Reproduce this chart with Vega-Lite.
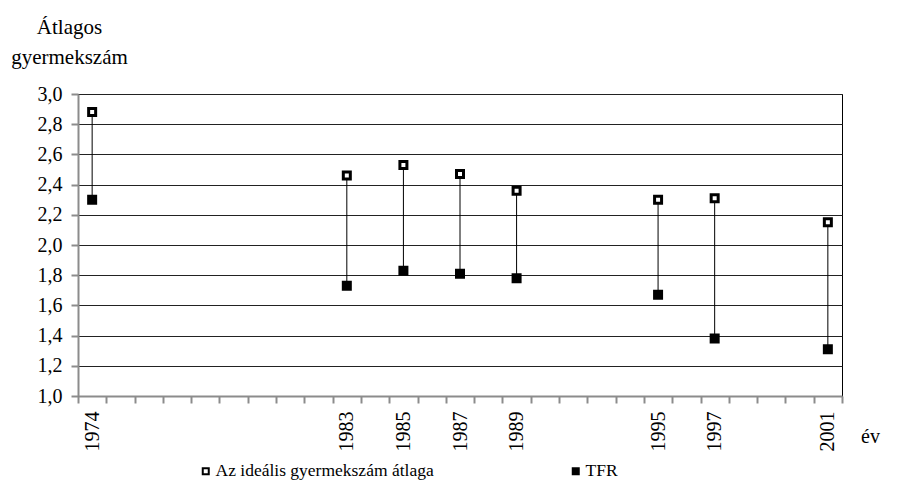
{
  "$schema": "https://vega.github.io/schema/vega-lite/v6.json",
  "width": 764,
  "height": 302,
  "autosize": "none",
  "padding": {"left": 78, "top": 94, "right": 62, "bottom": 100},
  "background": "white",
  "config": {
    "font": "Liberation Serif",
    "view": {"stroke": "#000", "strokeWidth": 1}
  },
  "data": {
    "values": [
      {"ev": "1974", "Az ideális gyermekszám átlaga": 2.88, "TFR": 2.30},
      {"ev": "1983", "Az ideális gyermekszám átlaga": 2.46, "TFR": 1.73},
      {"ev": "1985", "Az ideális gyermekszám átlaga": 2.53, "TFR": 1.83},
      {"ev": "1987", "Az ideális gyermekszám átlaga": 2.47, "TFR": 1.81},
      {"ev": "1989", "Az ideális gyermekszám átlaga": 2.36, "TFR": 1.78},
      {"ev": "1995", "Az ideális gyermekszám átlaga": 2.30, "TFR": 1.67},
      {"ev": "1997", "Az ideális gyermekszám átlaga": 2.31, "TFR": 1.38},
      {"ev": "2001", "Az ideális gyermekszám átlaga": 2.15, "TFR": 1.31}
    ]
  },
  "encoding": {
    "x": {
      "field": "ev",
      "type": "ordinal",
      "scale": {
        "type": "band",
        "paddingInner": 0,
        "paddingOuter": 0,
        "domain": ["1974","1975","1976","1977","1978","1979","1980","1981","1982","1983","1984","1985","1986","1987","1988","1989","1990","1991","1992","1993","1995","1996","1997","1998","1999","2000","2001"]
      },
      "axis": {
        "title": "év",
        "titleFont": "Liberation Serif",
        "titleFontSize": 20,
        "titleFontWeight": "normal",
        "titleColor": "#000",
        "titleAngle": 0,
        "titleX": 792,
        "titleY": 40,
        "titleAlign": "center",
        "titleBaseline": "middle",
        "labelFont": "Liberation Serif",
        "labelFontSize": 20,
        "labelColor": "#000",
        "labelAngle": -90,
        "labelAlign": "right",
        "labelBaseline": "middle",
        "labelPadding": 8,
        "labelOverlap": false,
        "labelExpr": "indexof(['1974','1983','1985','1987','1989','1995','1997','2001'], datum.value) >= 0 ? datum.value : ''",
        "tickBand": "extent",
        "tickSize": 7,
        "tickColor": "#8c8c8c",
        "tickWidth": 2,
        "domainColor": "#8c8c8c",
        "domainWidth": 2,
        "grid": false
      }
    }
  },
  "layer": [
    {
      "mark": {"type": "rule", "color": "#000", "strokeWidth": 1},
      "encoding": {
        "y": {
          "field": "Az ideális gyermekszám átlaga",
          "type": "quantitative",
          "scale": {"domain": [1, 3], "nice": false, "zero": false},
          "axis": {
            "title": ["Átlagos", "gyermekszám"],
            "titleFont": "Liberation Serif",
            "titleFontSize": 21,
            "titleFontWeight": "normal",
            "titleColor": "#000",
            "titleAngle": 0,
            "titleAlign": "center",
            "titleBaseline": "alphabetic",
            "titleLineHeight": 30,
            "titleX": -9,
            "titleY": -61,
            "values": [1, 1.2, 1.4, 1.6, 1.8, 2, 2.2, 2.4, 2.6, 2.8, 3],
            "labelExpr": "replace(format(datum.value, '.1f'), '.', ',')",
            "labelFont": "Liberation Serif",
            "labelFontSize": 20,
            "labelColor": "#000",
            "labelOverlap": false,
            "labelPadding": 9,
            "tickSize": 7,
            "tickColor": "#8c8c8c",
            "tickWidth": 2,
            "domainColor": "#8c8c8c",
            "domainWidth": 2,
            "grid": true,
            "gridColor": "#222",
            "gridWidth": 1
          }
        },
        "y2": {"field": "TFR"}
      }
    },
    {
      "transform": [{"fold": ["Az ideális gyermekszám átlaga", "TFR"], "as": ["sorozat", "ertek"]}],
      "mark": {"type": "point", "shape": "square", "size": 49, "stroke": "#000", "strokeWidth": 3, "filled": false, "opacity": 1},
      "encoding": {
        "y": {
          "field": "ertek",
          "type": "quantitative",
          "scale": {"domain": [1, 3], "nice": false, "zero": false},
          "axis": {
            "title": ["Átlagos", "gyermekszám"],
            "titleFont": "Liberation Serif",
            "titleFontSize": 21,
            "titleFontWeight": "normal",
            "titleColor": "#000",
            "titleAngle": 0,
            "titleAlign": "center",
            "titleBaseline": "alphabetic",
            "titleLineHeight": 30,
            "titleX": -9,
            "titleY": -61,
            "values": [1, 1.2, 1.4, 1.6, 1.8, 2, 2.2, 2.4, 2.6, 2.8, 3],
            "labelExpr": "replace(format(datum.value, '.1f'), '.', ',')",
            "labelFont": "Liberation Serif",
            "labelFontSize": 20,
            "labelColor": "#000",
            "labelOverlap": false,
            "labelPadding": 9,
            "tickSize": 7,
            "tickColor": "#8c8c8c",
            "tickWidth": 2,
            "domainColor": "#8c8c8c",
            "domainWidth": 2,
            "grid": true,
            "gridColor": "#222",
            "gridWidth": 1
          }
        },
        "fill": {
          "field": "sorozat",
          "type": "nominal",
          "scale": {"domain": ["Az ideális gyermekszám átlaga", "TFR"], "range": ["#ffffff", "#000000"]},
          "legend": {
            "title": null,
            "orient": "none",
            "direction": "horizontal",
            "columns": 2,
            "legendX": 119,
            "legendY": 368,
            "columnPadding": 133,
            "symbolType": "square",
            "symbolSize": 36,
            "symbolStrokeColor": "#000",
            "symbolStrokeWidth": 2,
            "symbolOpacity": 1,
            "labelOffset": 1,
            "labelFont": "Liberation Serif",
            "labelFontSize": 17.5,
            "labelColor": "#000",
            "labelLimit": 400
          }
        }
      }
    }
  ]
}
